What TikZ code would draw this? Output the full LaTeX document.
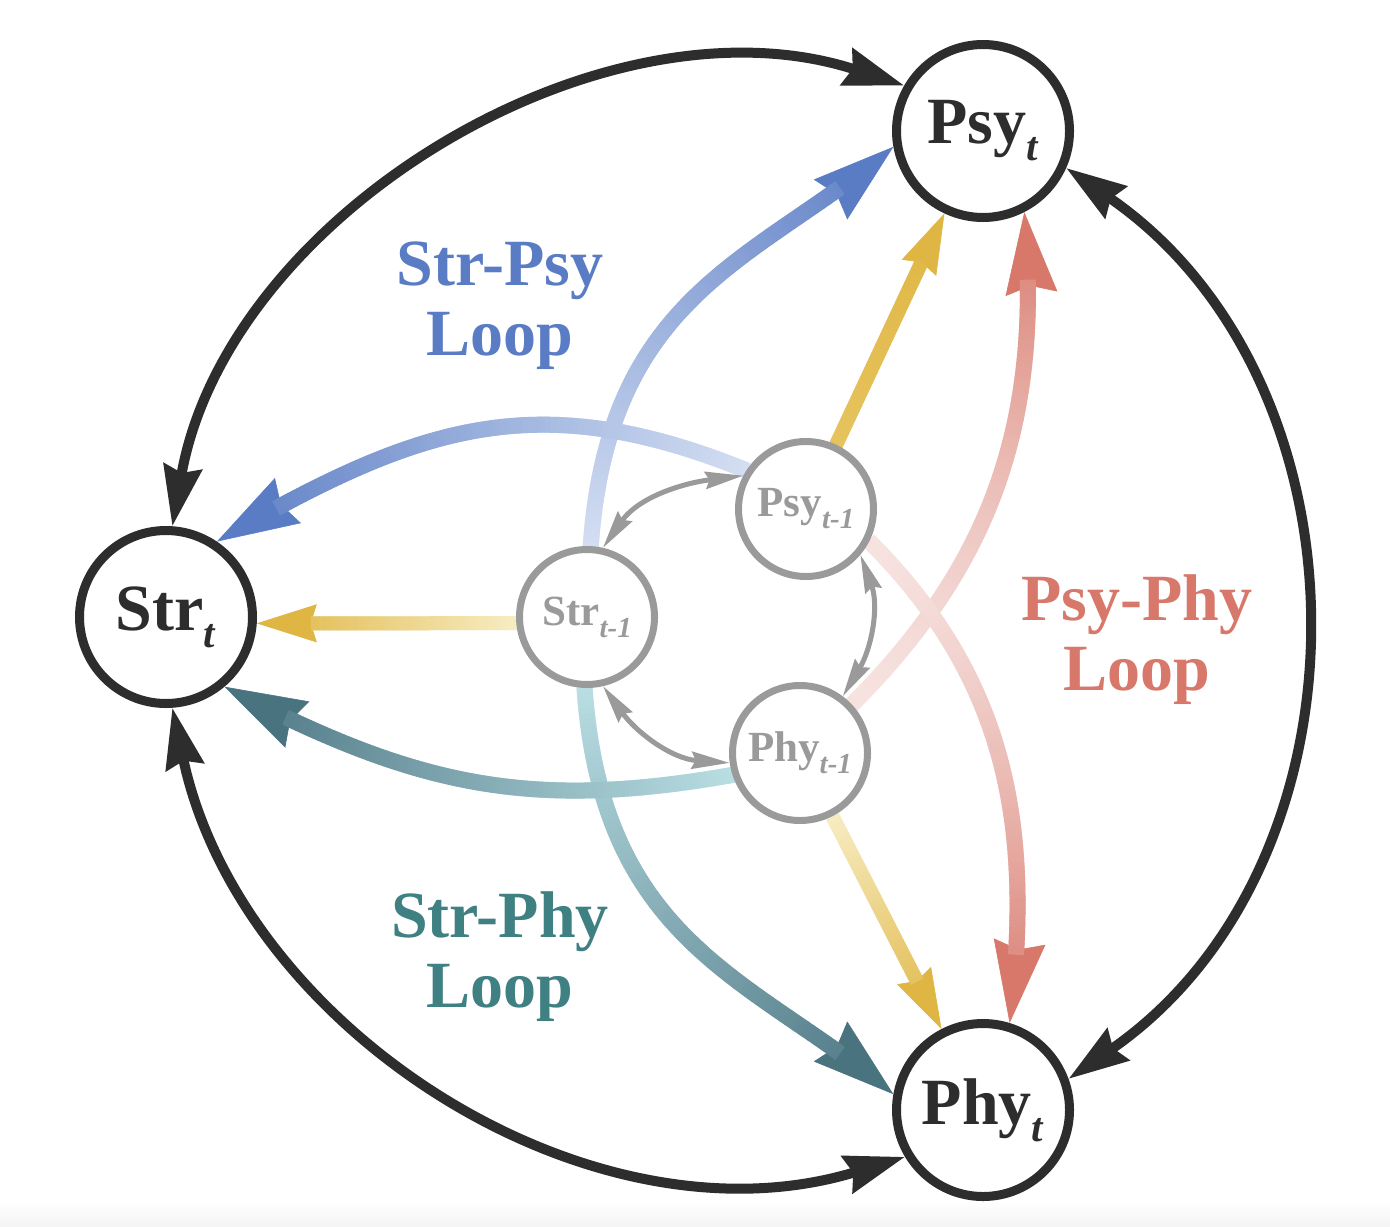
\documentclass[tikz,border=0pt]{standalone}
\usepackage{fontspec}
\setmainfont{Liberation Serif}
\usetikzlibrary{arrows.meta,decorations.markings}
\pgfdeclarelayer{bg}
\pgfsetlayers{bg,main}
\definecolor{ink}{HTML}{2D2D2D}
\definecolor{gry}{HTML}{9A9A9A}
\definecolor{bluec}{HTML}{5A7CC4}
\definecolor{bluel}{HTML}{D3DEF2}
\definecolor{redc}{HTML}{D7786B}
\definecolor{redl}{HTML}{F6E2DF}
\definecolor{tealc}{HTML}{4A7380}
\definecolor{teall}{HTML}{B8DDE3}
\definecolor{tealt}{HTML}{3F8083}
\definecolor{yelc}{HTML}{DFB643}
\definecolor{yell}{HTML}{F7ECC2}
\definecolor{yelm}{HTML}{E6C35E}
\newcommand{\bigsub}[1]{\raisebox{-8.5pt}{\fontsize{20.5}{20.5}\selectfont\textit{#1}}}
\newcommand{\smallsub}[1]{\raisebox{-6pt}{\fontsize{14.5}{14.5}\selectfont\textit{#1}}}
\tikzset{
  bigT/.tip={Stealth[length=41pt,width=26pt,inset=4pt]},
  yelT/.tip={Stealth[length=30pt,width=19pt,inset=3pt]},
  blkT/.tip={Stealth[length=30pt,width=19pt,inset=3pt]},
  gryT/.tip={Stealth[length=19pt,width=8.5pt,inset=2pt]},
  bignode/.style={circle, draw=ink, line width=4.5pt, fill=white, minimum size=86.5pt,
    inner sep=0pt, text=ink, font=\fontsize{33}{33}\selectfont\bfseries},
  smallnode/.style={circle, draw=gry, line width=3.5pt, fill=white, minimum size=67.5pt,
    inner sep=0pt, text=gry, font=\fontsize{21.5}{21.5}\selectfont\bfseries},
  outerarc/.style={draw=ink, line width=5pt, blkT-blkT},
  innerarc/.style={draw=gry, line width=2.5pt, gryT-gryT},
  looplabel/.style={font=\fontsize{33}{35}\selectfont\bfseries, align=center},
  gradarrow/.style n args={6}{
    draw=#2, line width=0.3pt, -{#6},
    postaction={decorate, decoration={markings,
      mark=between positions 0 and #4 step 0.7pt with {%
        \pgfmathtruncatemacro\gpct{min(100,100*(0.001+\pgfkeysvalueof{/pgf/decoration/mark info/distance from start}/\pgfdecoratedpathlength)^#5)}%
        \fill[#2!\gpct!#1] (-0.55pt,-#3/2) rectangle (0.55pt,#3/2);
      }}}
  },
}
\begin{document}
\begin{tikzpicture}[x=0.5pt,y=-0.5pt]
\useasboundingbox (0,0) rectangle (1390,1226);
% nodes
\node[bignode] (PsyT) at (983,131) {Psy\bigsub{t}};
\node[bignode] (StrT) at (166,617) {Str\bigsub{t}};
\node[bignode] (PhyT) at (983,1110) {Phy\bigsub{t}};
\node[smallnode] (PsyT1) at (806,509) {Psy\smallsub{t-1}};
\node[smallnode] (StrT1) at (587,617) {Str\smallsub{t-1}};
\node[smallnode] (PhyT1) at (800,753) {Phy\smallsub{t-1}};
% labels
\node[looplabel, text=bluec] (lblSP) at (500,306) {Str-Psy\\Loop};
\node[looplabel, text=redc] (lblPP) at (1137,640) {Psy-Phy\\Loop};
\node[looplabel, text=tealt] (lblST) at (500,957) {Str-Phy\\Loop};
\begin{pgfonlayer}{bg}
\fill[white] (0,0) rectangle (1390,1226);
\shade[top color=white, bottom color=black!4] (0,1200) rectangle (1390,1226);
% outer black arcs
\draw[outerarc] (StrT.86) to[out=80, in=162, looseness=0.95] (PsyT.150);
\draw[outerarc] (PsyT.-24) to[out=-34.5, in=34.7, looseness=1.06] (PhyT.20);
\draw[outerarc] (StrT.274) to[out=-78, in=197, looseness=0.98] (PhyT.211);
% yellow
\draw[gradarrow={yell}{yelc}{7pt}{-27pt}{1}{yelT}] (StrT1.185) -- (StrT.-4);
\draw[gradarrow={yelm}{yelc}{7pt}{-27pt}{1}{yelT}] (PsyT1) -- (PsyT);
\draw[gradarrow={yell}{yelc}{7pt}{-27pt}{1}{yelT}] (PhyT1) -- (PhyT);
% red
\draw[gradarrow={redl}{redc}{8pt}{-36pt}{1.5}{bigT}] (PhyT1.43) to[out=45, in=275] (PsyT.-63);
\draw[gradarrow={redl}{redc}{8pt}{-36pt}{1.5}{bigT}] (PsyT1.-27) to[out=-45, in=83] (PhyT.73);
% blue / teal
\draw[gradarrow={bluel}{bluec}{8pt}{-36pt}{1}{bigT}] (StrT1.87) to[out=86, in=220, out looseness=1.3, in looseness=0.9] (PsyT.190);
\draw[gradarrow={teall}{tealc}{8pt}{-36pt}{1}{bigT}] (StrT1.-92) to[out=-86, in=140, out looseness=1.3, in looseness=0.9] (PhyT.170);
\draw[gradarrow={bluel}{bluec}{8pt}{-36pt}{1}{bigT}] (PsyT1.147) to[out=158, in=30, looseness=1.1] (StrT.56);
\draw[gradarrow={teall}{tealc}{8pt}{-36pt}{1}{bigT}] (PhyT1.198) to[out=190, in=-27.5, looseness=1.05] (StrT.-50);
% gray inner arcs
\draw[innerarc] (StrT1.77) to[out=55, in=187] (PsyT1.152);
\draw[innerarc] (PsyT1.-40) to[out=-70, in=59] (PhyT1.53);
\draw[innerarc] (StrT1.-77) to[out=-54, in=176] (PhyT1.188);
\end{pgfonlayer}
\end{tikzpicture}
\end{document}
